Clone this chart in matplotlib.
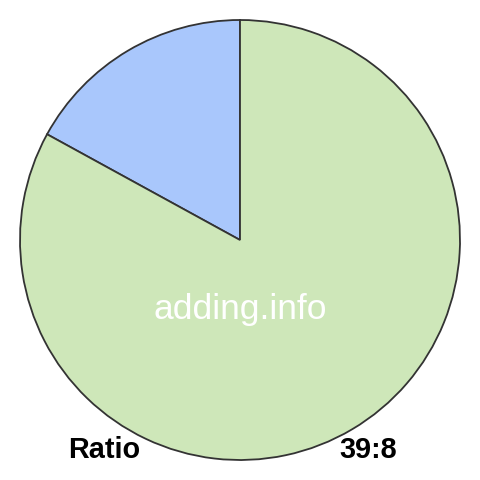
import matplotlib
matplotlib.use("Agg")
import matplotlib.pyplot as plt

labels = ["8", "39"]
values = [8, 39]
colors = ["#a9c7fc", "#cee7b9"]
ratio_text = "39:8"

fig = plt.figure(figsize=(4.8, 4.8), dpi=100)
ax = fig.add_axes([0, 0, 1, 1])

ax.pie(values, colors=colors, startangle=90, counterclock=True,
       center=(240, 240), radius=220, frame=True,
       wedgeprops=dict(edgecolor="#333333", linewidth=1.3))
ax.set_xlim(0, 480)
ax.set_ylim(0, 480)
ax.set_aspect("equal")
ax.axis("off")

font = ["Liberation Sans", "DejaVu Sans"]
ax.text(240, 480 - 310, "adding.info", color="white", fontsize=25.5,
        ha="center", va="center", family=font)
ax.text(68, 480 - 450, "Ratio", color="black", fontsize=20.8, fontweight="bold",
        ha="left", va="center", family=font)
ax.text(397, 480 - 450, ratio_text, color="black", fontsize=20.8, fontweight="bold",
        ha="right", va="center", family=font)

fig.savefig("out.png", dpi=100)
